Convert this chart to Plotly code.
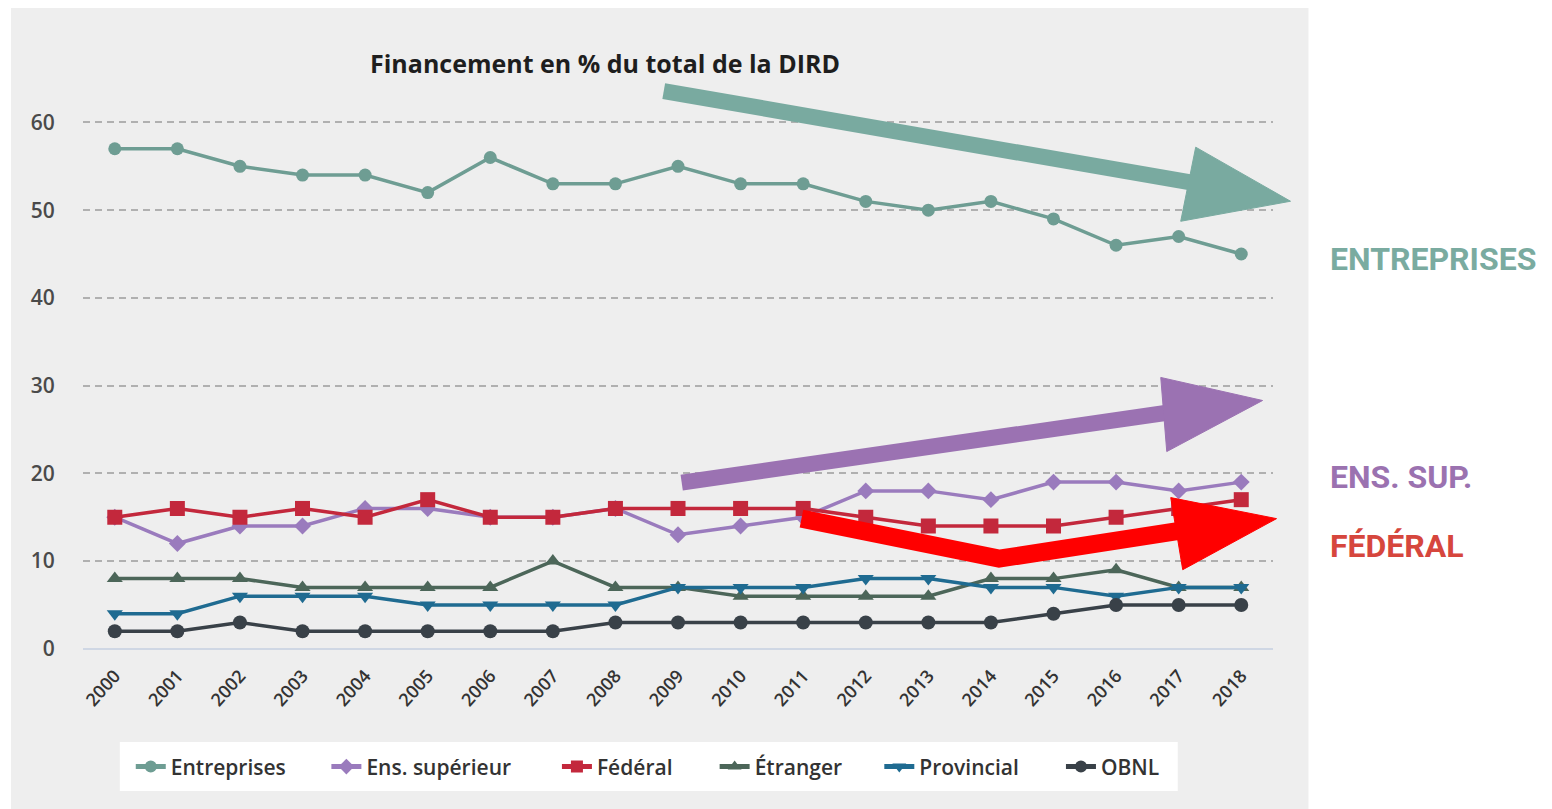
import plotly.graph_objects as go

# the page keeps its 8px body margin; the figure starts at (8, 8).
# PH is the page height the layout is planned on, H the height that is drawn.
OFF = 8
W = 1552 - OFF
PH = 809 - OFF
H = 815

years = list(range(2000, 2019))
year_labels = [str(y) for y in years]

entreprises = [57, 57, 55, 54, 54, 52, 56, 53, 53, 55, 53, 53, 51, 50, 51, 49, 46, 47, 45]
ens_superieur = [15, 12, 14, 14, 16, 16, 15, 15, 16, 13, 14, 15, 18, 18, 17, 19, 19, 18, 19]
federal = [15, 16, 15, 16, 15, 17, 15, 15, 16, 16, 16, 16, 15, 14, 14, 14, 15, 16, 17]
etranger = [8, 8, 8, 7, 7, 7, 7, 10, 7, 7, 6, 6, 6, 6, 8, 8, 9, 7, 7]
provincial = [4, 4, 6, 6, 6, 5, 5, 5, 5, 7, 7, 7, 8, 8, 7, 7, 6, 7, 7]
obnl = [2, 2, 3, 2, 2, 2, 2, 2, 3, 3, 3, 3, 3, 3, 3, 4, 5, 5, 5]

series_names = ["Entreprises", "Ens. supérieur", "Fédéral", "Étranger", "Provincial", "OBNL"]
series_values = [entreprises, ens_superieur, federal, etranger, provincial, obnl]
colors = ["#6e9d93", "#9a7bbd", "#c3283c", "#4c6659", "#1f6b91", "#394148"]
symbols = ["circle", "diamond", "square", "triangle-up", "triangle-down", "circle"]
sizes = [13, 13, 15, 14, 14, 14]
# left edge (page pixels) of each legend entry
legend_left = [132, 328, 559, 717, 882, 1064]


def px(x, y):
    # page pixel -> paper coords
    return (x - OFF) / W, 1 - (y - OFF) / PH


fig = go.Figure()
for i, name in enumerate(series_names):
    lg = "legend" if i == 0 else "legend%d" % (i + 1)
    fig.add_trace(go.Scatter(
        x=years, y=series_values[i], name=name, mode="lines+markers",
        line=dict(color=colors[i], width=3.5),
        marker=dict(symbol=symbols[i], size=sizes[i], color=colors[i]),
        legend=lg,
    ))

shapes = []


def rect(xa, ya, xb, yb, color):
    a0, b0 = px(xa, ya)
    a1, b1 = px(xb, yb)
    return dict(type="rect", xref="paper", yref="paper", x0=a0, y0=b1, x1=a1, y1=b0,
                fillcolor=color, line=dict(width=0), layer="below")


shapes.append(rect(8, 4, 1308, 812, "#eeeeee"))
shapes.append(rect(117, 741, 1177, 790, "#ffffff"))


def thick_line(points, color, width):
    path = ""
    for i, (x, y) in enumerate(points):
        a, b = px(x, y)
        path += ("M" if i == 0 else "L") + f"{a},{b} "
    return dict(type="path", xref="paper", yref="paper", path=path.strip(),
                line=dict(color=color, width=width), layer="above")


def tri(points, color):
    path = ""
    for i, (x, y) in enumerate(points):
        a, b = px(x, y)
        path += ("M" if i == 0 else "L") + f"{a},{b} "
    return dict(type="path", xref="paper", yref="paper", path=path + "Z",
                fillcolor=color, line=dict(color=color, width=1), layer="above")


# big annotation arrows
teal = "#79aaa0"
shapes.append(thick_line([(662, 91), (1200, 184)], teal, 16))
shapes.append(tri([(1195, 147), (1290, 201), (1180, 221)], teal))
purple = "#9b72b2"
shapes.append(thick_line([(680, 482), (1168, 412)], purple, 16))
shapes.append(tri([(1160, 377), (1262, 400), (1166, 451)], purple))
red = "#ff0000"
shapes.append(thick_line([(800, 518), (998, 558), (1180, 530)], red, 18))
shapes.append(tri([(1170, 497), (1276, 518), (1182, 569)], red))

side_font = "Roboto, sans-serif"
annotations = [
    dict(text="<b>Financement en % du total de la DIRD</b>", xref="paper", yref="paper",
         x=px(603, 0)[0], y=px(0, 63)[1], xanchor="center", yanchor="middle", showarrow=False,
         font=dict(family="Open Sans", size=25, color="#1e1e1e")),
    dict(text="<b>ENTREPRISES</b>", xref="paper", yref="paper",
         x=px(1328, 0)[0], y=px(0, 259)[1], xanchor="left", yanchor="middle", showarrow=False,
         font=dict(family=side_font, size=32, color="#7aaba0")),
    dict(text="<b>ENS. SUP.</b>", xref="paper", yref="paper",
         x=px(1328, 0)[0], y=px(0, 476)[1], xanchor="left", yanchor="middle", showarrow=False,
         font=dict(family=side_font, size=32, color="#9b72b0")),
    dict(text="<b>FÉDÉRAL</b>", xref="paper", yref="paper",
         x=px(1328, 0)[0], y=px(0, 545)[1], xanchor="left", yanchor="middle", showarrow=False,
         font=dict(family=side_font, size=32, color="#d6463d")),
]

layout = dict(
    width=W, height=H,
    margin=dict(l=0, r=0, t=0, b=0),
    paper_bgcolor="white",
    plot_bgcolor="rgba(0,0,0,0)",
    shapes=shapes,
    annotations=annotations,
    showlegend=True,
    xaxis=dict(domain=[px(80, 0)[0], px(1272, 0)[0]], range=[1999.49, 2018.5],
               tickvals=years, ticktext=year_labels, tickangle=-48,
               tickfont=dict(family="Open Sans", size=18, color="#333333", weight=600),
               ticklabelstandoff=12,
               showgrid=False, zeroline=False, showline=False, ticks=""),
    yaxis=dict(domain=[px(0, 648)[1], px(0, 96)[1]], range=[0, 63],
               tickvals=[0, 10, 20, 30, 40, 50, 60],
               tickfont=dict(family="Open Sans", size=21, color="#4a4a4a", weight=600),
               showgrid=True, gridcolor="#b0b0b0", gridwidth=1.5, griddash="7px,5px",
               zeroline=True, zerolinecolor="#cfd7e4", zerolinewidth=2,
               ticklabelstandoff=27, ticks=""),
)
for i in range(len(series_names)):
    key = "legend" if i == 0 else "legend%d" % (i + 1)
    layout[key] = dict(x=px(legend_left[i] - 4, 0)[0], y=px(0, 766)[1],
                       xanchor="left", yanchor="middle", bgcolor="rgba(0,0,0,0)",
                       itemsizing="constant",
                       font=dict(family="Open Sans", size=21, color="#333333", weight=600))

fig.update_layout(**layout)

fig.write_html("out.html", config={"displayModeBar": False})
